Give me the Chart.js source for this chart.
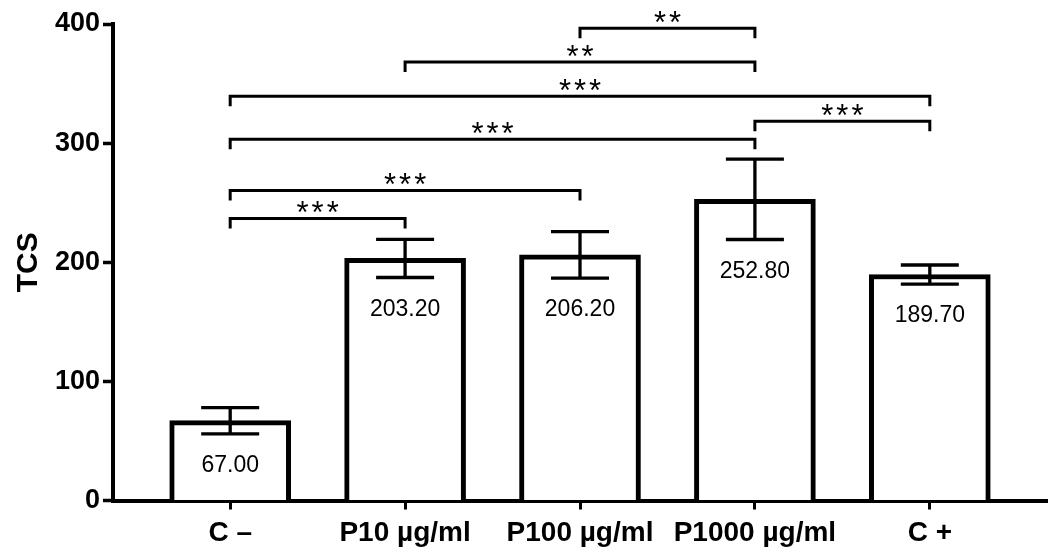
<!DOCTYPE html>
<html><head><meta charset="utf-8">
<script src="https://cdn.jsdelivr.net/npm/chart.js@4/dist/chart.umd.min.js"></script>
<style>html,body{margin:0;padding:0;background:#fff}#wrap{width:1053px;height:547px;position:relative}</style>
</head><body><div id="wrap"><canvas id="c"></canvas></div>
<script>
const categories = ['C \u2013', 'P10 \u00b5g/ml', 'P100 \u00b5g/ml', 'P1000 \u00b5g/ml', 'C +'];
const means = [67.00, 203.20, 206.20, 252.80, 189.70];
const errors = [11, 16, 19.5, 33.7, 8];
const yTicks = [0, 100, 200, 300, 400];
const bracketFrom = [2, 1, 0, 3, 0, 0, 0];
const bracketTo = [3, 3, 4, 4, 3, 2, 1];
const bracketHeight = [396.5, 368, 339.4, 318.4, 303.2, 260.3, 236.8];
const bracketLabels = ['**', '**', '***', '***', '***', '***', '***'];

const FAM = '"Liberation Sans", Arial, Helvetica, sans-serif';

const overlay = {
  id: 'overlay',
  afterDatasetsDraw(chart) {
    const ctx = chart.ctx, xs = chart.scales.x, ys = chart.scales.y;
    ctx.save();
    ctx.strokeStyle = '#000'; ctx.fillStyle = '#000'; ctx.lineCap = 'butt';
    means.forEach((m, i) => {
      const x = xs.getPixelForValue(i);
      const t = ys.getPixelForValue(m + errors[i]);
      const b = ys.getPixelForValue(m - errors[i]);
      ctx.lineWidth = 3.3;
      ctx.beginPath();
      ctx.moveTo(x, t); ctx.lineTo(x, b);
      ctx.moveTo(x - 29, t); ctx.lineTo(x + 29, t);
      ctx.moveTo(x - 29, b); ctx.lineTo(x + 29, b);
      ctx.stroke();
      ctx.font = '23px ' + FAM;
      ctx.textAlign = 'center'; ctx.textBaseline = 'middle';
      ctx.fillText(m.toFixed(2), x, b + 32);
    });
    ctx.lineWidth = 3; ctx.lineJoin = 'miter';
    bracketFrom.forEach((f, k) => {
      const x1 = xs.getPixelForValue(f), x2 = xs.getPixelForValue(bracketTo[k]);
      const y = ys.getPixelForValue(bracketHeight[k]);
      ctx.beginPath();
      ctx.moveTo(x1, y + 10); ctx.lineTo(x1, y); ctx.lineTo(x2, y); ctx.lineTo(x2, y + 10);
      ctx.stroke();
      ctx.font = '31px ' + FAM;
      ctx.letterSpacing = '3px';
      ctx.textAlign = 'center'; ctx.textBaseline = 'alphabetic';
      ctx.fillText(bracketLabels[k], (x1 + x2) / 2 + 1.5, y + 5);
      ctx.letterSpacing = '0px';
    });
    ctx.restore();
  }
};

new Chart(document.getElementById('c'), {
  type: 'bar',
  data: {
    datasets: [{
      data: means.map((v, i) => ({ x: i, y: v })),
      backgroundColor: '#fff',
      borderColor: '#000',
      borderWidth: 5,
      barThickness: 121
    }]
  },
  options: {
    responsive: true,
    maintainAspectRatio: false,
    animation: false,
    layout: { padding: { top: 24, right: 6, left: 0, bottom: 0 } },
    plugins: { legend: { display: false }, tooltip: { enabled: false } },
    scales: {
      x: {
        type: 'linear', min: -0.67, max: 4.67, offset: false,
        afterBuildTicks: s => { s.ticks = categories.map((c, i) => ({ value: i })); },
        ticks: {
          callback: v => categories[v], autoSkip: false, maxRotation: 0,
          font: { family: FAM, size: 28, weight: 'bold' }, color: '#000', padding: 7
        },
        grid: { display: true, offset: false, drawOnChartArea: false, drawTicks: true, tickLength: 9, tickWidth: 3, tickColor: '#000' },
        border: { display: true, width: 4, color: '#000' },
        afterFit: s => { s.height = 46.5; }
      },
      y: {
        min: 0, max: 400,
        afterBuildTicks: s => { s.ticks = yTicks.map(v => ({ value: v })); },
        ticks: { font: { family: FAM, size: 27, weight: 'bold' }, color: '#000', padding: 3 },
        grid: { display: true, drawOnChartArea: false, drawTicks: true, tickLength: 10, tickWidth: 3.5, tickColor: '#000' },
        border: { display: true, width: 4, color: '#000' },
        title: { display: true, text: 'TCS', font: { family: FAM, size: 30, weight: 'bold' }, color: '#000', padding: { top: 11, bottom: 0 } },
        afterFit: s => { s.width = 113; }
      }
    }
  },
  plugins: [overlay]
});
</script>
</body></html>
